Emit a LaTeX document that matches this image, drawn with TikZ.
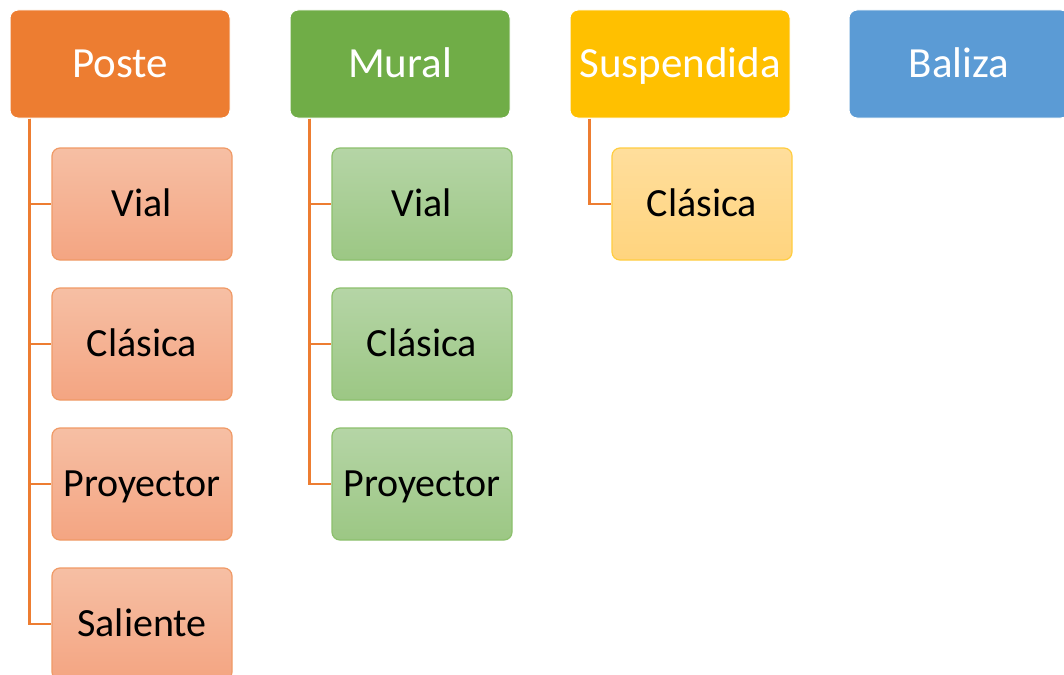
\documentclass[tikz,border=0pt]{standalone}
\usepackage{fontspec}
\setmainfont{Carlito}
\definecolor{cOr}{HTML}{ED7D31}
\definecolor{cGr}{HTML}{70AD47}
\definecolor{cYe}{HTML}{FFC000}
\definecolor{cBl}{HTML}{5B9BD5}
\definecolor{cOrT}{HTML}{F6BFA4}
\definecolor{cOrB}{HTML}{F4A582}
\definecolor{cGrT}{HTML}{B5D5A6}
\definecolor{cGrB}{HTML}{9CC784}
\definecolor{cYeT}{HTML}{FFDE9C}
\definecolor{cYeB}{HTML}{FFD47E}
\definecolor{cOrD}{HTML}{F09A66}
\definecolor{cGrD}{HTML}{8CC06C}
\definecolor{cYeD}{HTML}{FFCD40}
\tikzset{
  parentbox/.style={rectangle, rounded corners=8pt, minimum width=220pt, minimum height=108pt,
    text=white, font=\fontsize{43}{50}\selectfont, inner sep=0pt, text height=27pt, text depth=0pt,
    draw=white, line width=1pt},
  childbox/.style={rectangle, rounded corners=8pt, minimum width=180pt, minimum height=112pt,
    text=black, font=\fontsize{40}{48}\selectfont, inner sep=0pt, text height=25.5pt, text depth=0pt,
    line width=1.2pt},
  orchild/.style={childbox, top color=cOrT, bottom color=cOrB, draw=cOrD},
  grchild/.style={childbox, top color=cGrT, bottom color=cGrB, draw=cGrD},
  yechild/.style={childbox, top color=cYeT, bottom color=cYeB, draw=cYeD},
  conn/.style={draw=cOr, line width=2.6pt}
}
\begin{document}
\begin{tikzpicture}[x=1pt,y=-1pt]
\useasboundingbox (0,0) rectangle (1064,674);
\fill[white] (0,0) rectangle (1064,674);
% parents
\node[parentbox, fill=cOr] (P) at (120,64) {Poste};
\node[parentbox, fill=cGr] (M) at (400,64) {Mural};
\node[parentbox, fill=cYe] (S) at (680,64) {Suspendida};
\node[parentbox, fill=cBl] (B) at (959,64) {Baliza};
% Poste children
\node[orchild] (P1) at (142,204) {Vial};
\node[orchild] (P2) at (142,344) {Clásica};
\node[orchild] (P3) at (142,484) {Proyector};
\node[orchild] (P4) at (142,624) {Saliente};
% Mural children
\node[grchild] (M1) at (422,204) {Vial};
\node[grchild] (M2) at (422,344) {Clásica};
\node[grchild] (M3) at (422,484) {Proyector};
% Suspendida child
\node[yechild] (S1) at (702,204) {Clásica};
% connectors
\coordinate (Pt) at ([xshift=20pt]P.south west);
\coordinate (Mt) at ([xshift=20pt]M.south west);
\coordinate (St) at ([xshift=20pt]S.south west);
\draw[conn] (Pt) |- (P1.west);
\draw[conn] (Pt) |- (P2.west);
\draw[conn] (Pt) |- (P3.west);
\draw[conn] (Pt) |- (P4.west);
\draw[conn] (Mt) |- (M1.west);
\draw[conn] (Mt) |- (M2.west);
\draw[conn] (Mt) |- (M3.west);
\draw[conn] (St) |- (S1.west);
\end{tikzpicture}
\end{document}
